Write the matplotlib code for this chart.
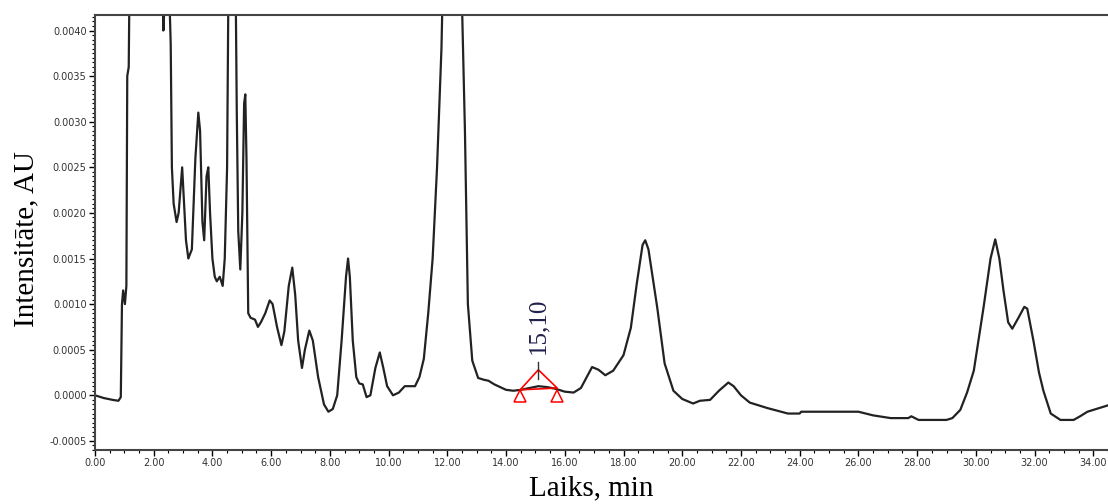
import numpy as np
import matplotlib
matplotlib.use("Agg")
from matplotlib import pyplot as plt
from matplotlib.ticker import MultipleLocator, FormatStrFormatter

# chromatogram trace (time in min, intensity in AU)
time = [0.00, 0.30, 0.60, 0.80, 0.88, 0.92, 0.96, 1.02, 1.07, 1.10, 1.15, 1.22,
        2.28, 2.30, 2.33, 2.37, 2.45, 2.55, 2.58, 2.62, 2.68, 2.78, 2.85, 2.92,
        2.97, 3.02, 3.10, 3.18, 3.30, 3.42, 3.52, 3.58, 3.66, 3.72, 3.80, 3.86,
        3.92, 4.00, 4.08, 4.15, 4.25, 4.35, 4.42, 4.50, 4.58, 4.75, 4.83, 4.88,
        4.95, 5.02, 5.08, 5.12, 5.16, 5.22, 5.30, 5.45, 5.55, 5.65, 5.80, 5.95,
        6.05, 6.20, 6.35, 6.45, 6.60, 6.72, 6.82, 6.92, 7.05, 7.15, 7.30, 7.42,
        7.60, 7.80, 7.95, 8.10, 8.25, 8.40, 8.55, 8.62, 8.68, 8.78, 8.90, 9.00,
        9.12, 9.25, 9.38, 9.55, 9.70, 9.82, 9.95, 10.15, 10.35, 10.55, 10.70,
        10.90, 11.05, 11.20, 11.35, 11.50, 11.65, 11.80, 11.88, 12.00, 12.30,
        12.45, 12.52, 12.60, 12.70, 12.85, 13.05, 13.25, 13.40, 13.60, 13.80,
        14.00, 14.25, 14.50, 14.80, 15.10, 15.40, 15.70, 16.00, 16.30, 16.55,
        16.75, 16.93, 17.15, 17.38, 17.65, 18.00, 18.25, 18.45, 18.65, 18.74,
        18.85, 19.15, 19.40, 19.70, 20.00, 20.37, 20.60, 20.95, 21.25, 21.57,
        21.75, 22.00, 22.30, 22.90, 23.60, 24.00, 24.05, 26.00, 26.50, 27.10,
        27.70, 27.80, 28.05, 29.00, 29.20, 29.47, 29.70, 29.93, 30.26, 30.50,
        30.66, 30.80, 30.94, 31.10, 31.24, 31.45, 31.65, 31.75, 31.96, 32.15,
        32.30, 32.55, 32.88, 33.33, 33.55, 33.80, 34.10, 34.50]
signal = [0.0, -0.00003, -0.00005, -0.00006, -0.00002, 0.0010, 0.00115, 0.0010,
          0.0012, 0.0035, 0.0036, 0.0060,
          0.0060, 0.0045, 0.0040, 0.0043, 0.0048, 0.0042, 0.00385, 0.0025,
          0.0021, 0.0019, 0.0020, 0.0023,
          0.0025, 0.0022, 0.0017, 0.0015, 0.0016, 0.0026, 0.0031, 0.0029,
          0.0019, 0.0017, 0.0024, 0.0025,
          0.0020, 0.0015, 0.0013, 0.00125, 0.0013, 0.0012, 0.0015, 0.0025,
          0.0060, 0.0060, 0.0031, 0.0018,
          0.00138, 0.0020, 0.0032, 0.0033, 0.0026, 0.0009, 0.00085, 0.00083,
          0.00075, 0.0008, 0.0009, 0.00104,
          0.0010, 0.00075, 0.00055, 0.0007, 0.0012, 0.0014, 0.0011, 0.0006,
          0.0003, 0.0005, 0.00071, 0.0006,
          0.0002, -0.0001, -0.00018, -0.00015, 0.0, 0.0006, 0.0013, 0.0015,
          0.0013, 0.0006, 0.0002, 0.00013,
          0.00012, -0.00002, 0.0, 0.0003, 0.00047, 0.0003, 0.0001, 0.0, 0.00003,
          0.0001, 0.0001,
          0.0001, 0.0002, 0.0004, 0.0009, 0.0015, 0.0025, 0.0038, 0.0050,
          0.0090, 0.0090,
          0.0050, 0.0040, 0.0029, 0.0010, 0.00038, 0.00019, 0.00017, 0.00016,
          0.00012, 0.00009,
          0.00006, 0.00005, 0.00006, 0.00008, 0.0001, 0.00009, 0.00007, 0.00004,
          0.00003, 0.00008,
          0.0002, 0.00031, 0.00028, 0.00022, 0.00027, 0.00044, 0.00074, 0.00122,
          0.00165, 0.00170,
          0.00160, 0.00096, 0.00035, 0.00005, -0.00004, -0.00009, -0.00006,
          -0.00005, 0.00005, 0.00014,
          0.0001, 0.0, -0.00008, -0.00014, -0.0002, -0.0002, -0.00018, -0.00018,
          -0.00022, -0.00025,
          -0.00025, -0.00023, -0.00027, -0.00027, -0.00025, -0.00016, 0.00003,
          0.00027, 0.00096, 0.0015,
          0.00171, 0.0015, 0.00115, 0.0008, 0.00073, 0.00085, 0.00097, 0.00095,
          0.0006, 0.00025,
          0.00005, -0.0002, -0.00027, -0.00027, -0.00023, -0.00018, -0.00015,
          -0.00011]

# integrated peak marker at 15.10 min
peak_label = "15,10"
peak_t = [14.48, 15.10, 15.74]
peak_v = [0.00006, 0.00028, 0.00008]
foot_v = [-0.000005, -0.000005]


def main():
    plt.rcParams['axes.unicode_minus'] = False
    fig = plt.figure(figsize=(11.08, 5.04), dpi=100)
    ax = fig.add_axes([0.0857, 0.1071, 0.9143, 0.8631])

    ax.plot(time, signal, color='#222222', lw=1.6)

    # peak integration triangle
    ax.plot([peak_t[0], peak_t[1], peak_t[2], peak_t[0]],
            [peak_v[0], peak_v[1], peak_v[2], peak_v[0]],
            color='red', lw=1.2)
    ax.plot([peak_t[0], peak_t[2]], foot_v, ls='none', marker='^',
            ms=8.5, mfc='none', mec='red', mew=1.1)
    ax.plot([peak_t[1], peak_t[1]], [peak_v[1] - 0.0001, peak_v[1] + 0.00008],
            color='#333333', lw=1)
    ax.text(peak_t[1], peak_v[1] + 0.00017, peak_label, rotation=90,
            ha='center', va='bottom', fontsize=18, color='#20204a',
            family='Liberation Serif')

    ax.set_xlim(0, 34.5)
    ax.set_ylim(-0.0006, 0.00417)

    ax.xaxis.set_major_locator(MultipleLocator(2))
    ax.xaxis.set_minor_locator(MultipleLocator(0.5))
    ax.yaxis.set_major_locator(MultipleLocator(0.0005))
    ax.yaxis.set_minor_locator(MultipleLocator(0.00005))
    ax.xaxis.set_major_formatter(FormatStrFormatter('%.2f'))
    ax.yaxis.set_major_formatter(FormatStrFormatter('%.4f'))
    ax.tick_params(which='major', direction='out', length=4, width=1,
                   labelsize=7, labelcolor='#333333', pad=2)
    ax.tick_params(which='minor', direction='out', length=2.5, width=0.8)

    ax.spines['right'].set_visible(False)
    for s in ('left', 'bottom', 'top'):
        ax.spines[s].set_linewidth(1.5)
        ax.spines[s].set_color('#444444')

    ax.set_xlabel('Laiks, min', fontsize=21, family='Liberation Serif')
    ax.xaxis.set_label_coords(0.49, -0.058)
    ax.set_ylabel('Intensitāte, AU', fontsize=21, family='Liberation Serif')
    ax.yaxis.set_label_coords(-0.055, 0.485)

    fig.savefig('out.png', dpi=100)


if __name__ == '__main__':
    main()
